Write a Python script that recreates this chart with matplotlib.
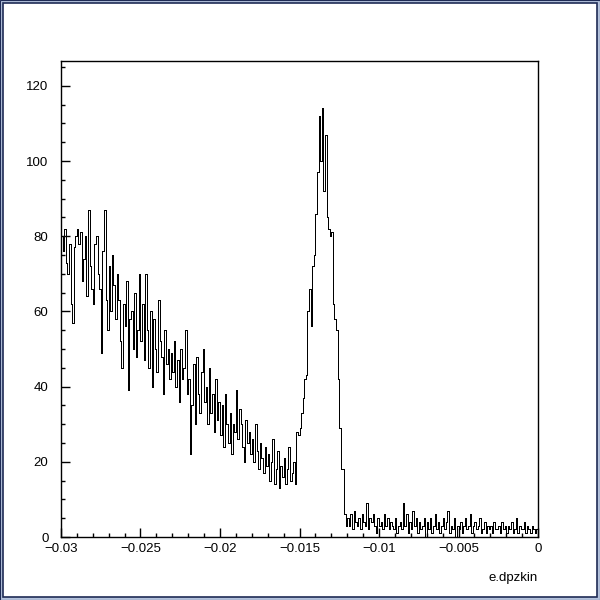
import numpy as np
import matplotlib as mpl
mpl.use('Agg')
import matplotlib.pyplot as plt
from matplotlib.patches import Rectangle
from matplotlib.ticker import MultipleLocator, FuncFormatter

# histogram of e.dpzkin, 300 bins from -0.03 to 0
x_lo, x_hi = -0.03, 0.0
counts = [
    80, 76, 82, 73, 70, 78, 62, 57, 77, 80,
    82, 78, 81, 68, 74, 80, 64, 87, 72, 66,
    62, 78, 80, 70, 66, 49, 76, 87, 63, 55,
    72, 60, 75, 67, 58, 70, 63, 52, 45, 62,
    56, 68, 39, 58, 60, 50, 65, 48, 55, 70,
    52, 62, 47, 70, 55, 45, 60, 40, 58, 50,
    44, 63, 52, 48, 38, 55, 46, 50, 42, 49,
    44, 52, 40, 47, 36, 50, 42, 45, 55, 38,
    42, 22, 35, 46, 30, 48, 38, 33, 44, 50,
    36, 40, 30, 45, 33, 38, 28, 42, 31, 36,
    27, 35, 24, 38, 30, 25, 33, 22, 30, 28,
    39, 26, 34, 30, 24, 20, 31, 25, 28, 22,
    26, 20, 30, 23, 18, 25, 21, 17, 24, 19,
    22, 15, 20, 26, 14, 18, 23, 13, 19, 16,
    21, 14, 18, 24, 15, 17, 20, 14, 28, 27,
    29, 33, 37, 42, 43, 60, 66, 56, 72, 75,
    86, 97, 112, 100, 114, 92, 107, 85, 82, 80,
    81, 62, 58, 55, 42, 29, 18, 18, 6, 3,
    5, 3, 6, 2, 7, 4, 3, 5, 2, 6,
    4, 3, 9, 2, 5, 4, 6, 3, 1, 5,
    3, 4, 2, 6, 3, 5, 2, 4, 3, 2,
    5, 1, 3, 4, 2, 9, 3, 6, 1, 4,
    2, 7, 3, 5, 1, 4, 2, 3, 5, 0,
    4, 2, 5, 1, 3, 6, 2, 4, 1, 3,
    5, 2, 4, 7, 1, 3, 2, 5, 0, 3,
    2, 4, 1, 3, 5, 2, 3, 6, 1, 3,
    4, 2, 3, 5, 1, 2, 4, 1, 3, 2,
    3, 1, 4, 2, 2, 3, 1, 4, 2, 3,
    1, 3, 2, 4, 1, 2, 5, 1, 3, 2,
    2, 4, 1, 3, 2, 1, 3, 2, 1, 2,
]
x_ticks = [-0.03, -0.025, -0.02, -0.015, -0.01, -0.005, 0.0]
y_ticks = [0, 20, 40, 60, 80, 100, 120]
x_title = 'e.dpzkin'

plt.rcParams['font.family'] = ['Liberation Sans', 'DejaVu Sans']

fig = plt.figure(figsize=(6, 6), dpi=100)
fig.patch.set_facecolor('#b4c2dc')

# canvas bevel border
fig.patches.append(Rectangle((0.005, 0.005), 0.99, 0.99, transform=fig.transFigure,
                             facecolor='white', edgecolor='#1f2b55', lw=1.2, zorder=-10))
fig.patches.append(Rectangle((0.0, 0.0), 1.0, 1.0, transform=fig.transFigure,
                             facecolor='none', edgecolor='#1f2b55', lw=0.8, zorder=-10))

ax = fig.add_axes([61/600, 63/600, 477/600, 476/600])
ax.set_zorder(5)
ax.patch.set_alpha(0)
edges = np.linspace(x_lo, x_hi, len(counts) + 1)
ax.stairs(counts, edges, color='black', lw=0.72, antialiased=False)

ax.set_xlim(x_lo, x_hi)
ax.set_ylim(0, 126.6)

for s in ax.spines.values():
    s.set_linewidth(1.0)


def fmt(v, pos):
    if abs(v) < 1e-9:
        return '0'
    return ('%g' % v).replace('-', '\u2212')


ax.set_xticks(x_ticks)
ax.set_yticks(y_ticks)
ax.xaxis.set_minor_locator(MultipleLocator(0.001))
ax.yaxis.set_minor_locator(MultipleLocator(5))
ax.xaxis.set_major_formatter(FuncFormatter(fmt))
ax.tick_params(which='both', direction='in', top=False, right=False, width=1.0)
ax.tick_params(which='major', length=6.5, labelsize=9.5)
ax.tick_params(axis='x', which='major', pad=4)
ax.tick_params(axis='y', which='major', pad=9)
ax.tick_params(which='minor', length=3.2)

fig.text(538/600, 0.037, x_title, ha='right', va='center', fontsize=9.5)

fig.savefig('out.png', dpi=100, facecolor=fig.get_facecolor())
